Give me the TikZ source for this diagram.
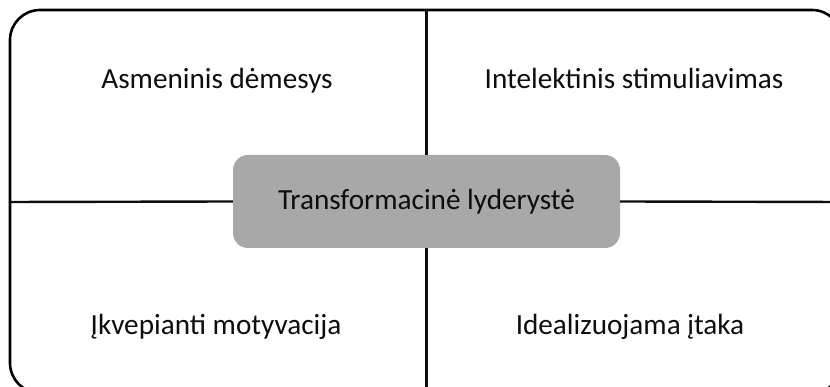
\documentclass[tikz,border=0pt]{standalone}
\usepackage{fontspec}
\setmainfont{Carlito}
\begin{document}
\begin{tikzpicture}[x=1pt,y=1pt,
  divider/.style={line width=2.4pt, black!95},
  label/.style={font=\fontsize{29.2}{34}\selectfont, text=black!95, inner sep=0pt, anchor=base},
  centerbox/.style={fill=black!34, rounded corners=15pt, minimum width=387pt, minimum height=93pt, inner sep=0pt, font=\fontsize{29.2}{34}\selectfont, text=black!95}]
\useasboundingbox (0,0) rectangle (830,387);
\clip (0,0) rectangle (830,387);
\draw[line width=2.6pt, rounded corners=30pt] (10,377) rectangle (842,-6);
\coordinate (top) at (426.5,377);
\coordinate (bottom) at (426.5,-6);
\coordinate (left) at (10,185);
\coordinate (right) at (842,185);
\node[centerbox] (core) at (426.5,185.5) {Transformacinė lyderystė};
\draw[divider] (core.north) -- (top);
\draw[divider] (core.south) -- (bottom);
\draw[divider] (core.west) -- (left);
\draw[divider] (core.east) -- (right);
\node[label] (tl) at (217,298) {Asmeninis dėmesys};
\node[label] (tr) at (634,298) {Intelektinis stimuliavimas};
\node[label] (bl) at (216,52) {Įkvepianti motyvacija};
\node[label] (br) at (630,52) {Idealizuojama įtaka};
\end{tikzpicture}
\end{document}
